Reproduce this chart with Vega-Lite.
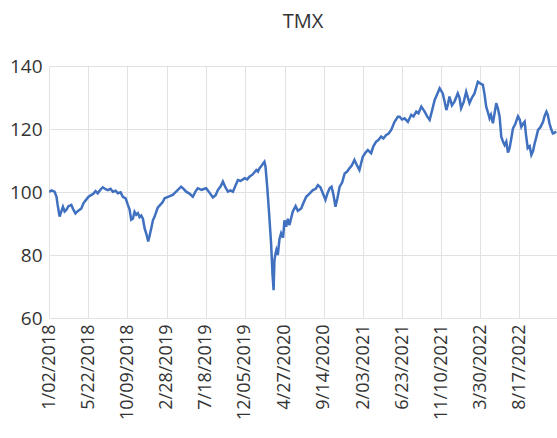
{
  "$schema": "https://vega.github.io/schema/vega-lite/v6.json",
  "width": 508,
  "height": 252,
  "autosize": {"type": "none"},
  "padding": {"left": 49, "top": 66, "right": 0, "bottom": 120},
  "background": "white",
  "title": {"text": "TMX", "fontSize": 20, "font": "Open Sans", "fontWeight": "normal", "color": "#333333", "anchor": "middle", "offset": 25},
  "data": {"values": [
    {"d": "2018-01-02T00:00", "v": 100.0},
    {"d": "2018-01-11T00:00", "v": 100.5},
    {"d": "2018-01-22T00:00", "v": 100.1},
    {"d": "2018-01-29T00:00", "v": 98.5},
    {"d": "2018-02-02T00:00", "v": 95.9},
    {"d": "2018-02-09T00:00", "v": 92.2},
    {"d": "2018-02-16T00:00", "v": 94.0},
    {"d": "2018-02-21T00:00", "v": 95.3},
    {"d": "2018-02-27T00:00", "v": 93.8},
    {"d": "2018-03-05T00:00", "v": 94.3},
    {"d": "2018-03-13T00:00", "v": 95.5},
    {"d": "2018-03-23T00:00", "v": 95.9},
    {"d": "2018-03-30T00:00", "v": 94.5},
    {"d": "2018-04-07T00:00", "v": 93.2},
    {"d": "2018-04-16T00:00", "v": 94.0},
    {"d": "2018-04-28T00:00", "v": 94.8},
    {"d": "2018-05-06T00:00", "v": 96.5},
    {"d": "2018-05-15T00:00", "v": 97.5},
    {"d": "2018-05-24T00:00", "v": 98.5},
    {"d": "2018-06-02T00:00", "v": 99.0},
    {"d": "2018-06-11T00:00", "v": 99.5},
    {"d": "2018-06-18T00:00", "v": 100.3},
    {"d": "2018-06-26T00:00", "v": 99.6},
    {"d": "2018-07-06T00:00", "v": 100.8},
    {"d": "2018-07-14T00:00", "v": 101.5},
    {"d": "2018-07-24T00:00", "v": 100.9},
    {"d": "2018-08-01T00:00", "v": 100.6},
    {"d": "2018-08-11T00:00", "v": 101.0},
    {"d": "2018-08-19T00:00", "v": 100.1},
    {"d": "2018-08-29T00:00", "v": 100.4},
    {"d": "2018-09-06T00:00", "v": 99.6},
    {"d": "2018-09-16T00:00", "v": 99.9},
    {"d": "2018-09-24T00:00", "v": 98.5},
    {"d": "2018-10-04T00:00", "v": 98.0},
    {"d": "2018-10-12T00:00", "v": 95.9},
    {"d": "2018-10-18T00:00", "v": 94.5},
    {"d": "2018-10-24T00:00", "v": 91.2},
    {"d": "2018-10-30T00:00", "v": 91.5},
    {"d": "2018-11-05T00:00", "v": 93.7},
    {"d": "2018-11-11T00:00", "v": 92.8},
    {"d": "2018-11-17T00:00", "v": 93.3},
    {"d": "2018-11-23T00:00", "v": 92.0},
    {"d": "2018-11-29T00:00", "v": 92.5},
    {"d": "2018-12-05T00:00", "v": 91.5},
    {"d": "2018-12-11T00:00", "v": 88.5},
    {"d": "2018-12-18T00:00", "v": 86.5},
    {"d": "2018-12-24T00:00", "v": 84.3},
    {"d": "2018-12-30T00:00", "v": 86.5},
    {"d": "2019-01-04T00:00", "v": 88.5},
    {"d": "2019-01-10T00:00", "v": 91.0},
    {"d": "2019-01-16T00:00", "v": 92.2},
    {"d": "2019-01-27T00:00", "v": 95.0},
    {"d": "2019-02-06T00:00", "v": 96.0},
    {"d": "2019-02-14T00:00", "v": 96.8},
    {"d": "2019-02-21T00:00", "v": 98.0},
    {"d": "2019-03-07T00:00", "v": 98.5},
    {"d": "2019-03-22T00:00", "v": 99.1},
    {"d": "2019-04-05T00:00", "v": 100.3},
    {"d": "2019-04-21T00:00", "v": 101.7},
    {"d": "2019-04-30T00:00", "v": 101.0},
    {"d": "2019-05-09T00:00", "v": 100.1},
    {"d": "2019-05-21T00:00", "v": 99.5},
    {"d": "2019-06-02T00:00", "v": 98.5},
    {"d": "2019-06-12T00:00", "v": 100.2},
    {"d": "2019-06-20T00:00", "v": 101.2},
    {"d": "2019-07-03T00:00", "v": 100.7},
    {"d": "2019-07-20T00:00", "v": 101.2},
    {"d": "2019-08-01T00:00", "v": 99.8},
    {"d": "2019-08-13T00:00", "v": 98.3},
    {"d": "2019-08-23T00:00", "v": 99.0},
    {"d": "2019-08-31T00:00", "v": 100.6},
    {"d": "2019-09-10T00:00", "v": 101.8},
    {"d": "2019-09-18T00:00", "v": 103.3},
    {"d": "2019-09-27T00:00", "v": 101.5},
    {"d": "2019-10-06T00:00", "v": 100.1},
    {"d": "2019-10-15T00:00", "v": 100.5},
    {"d": "2019-10-24T00:00", "v": 100.1},
    {"d": "2019-11-02T00:00", "v": 102.0},
    {"d": "2019-11-11T00:00", "v": 103.8},
    {"d": "2019-11-20T00:00", "v": 103.5},
    {"d": "2019-11-29T00:00", "v": 104.0},
    {"d": "2019-12-05T00:00", "v": 104.4},
    {"d": "2019-12-14T00:00", "v": 104.0},
    {"d": "2019-12-23T00:00", "v": 104.9},
    {"d": "2020-01-02T00:00", "v": 105.5},
    {"d": "2020-01-16T00:00", "v": 107.0},
    {"d": "2020-01-22T00:00", "v": 106.5},
    {"d": "2020-01-27T00:00", "v": 107.5},
    {"d": "2020-02-05T00:00", "v": 108.5},
    {"d": "2020-02-14T00:00", "v": 109.6},
    {"d": "2020-02-18T00:00", "v": 108.0},
    {"d": "2020-02-24T00:00", "v": 101.7},
    {"d": "2020-03-01T00:00", "v": 94.3},
    {"d": "2020-03-09T00:00", "v": 83.7},
    {"d": "2020-03-14T00:00", "v": 74.0},
    {"d": "2020-03-18T00:00", "v": 68.8},
    {"d": "2020-03-21T00:00", "v": 78.4},
    {"d": "2020-03-25T00:00", "v": 80.5},
    {"d": "2020-03-28T00:00", "v": 81.6},
    {"d": "2020-04-02T00:00", "v": 80.0},
    {"d": "2020-04-08T00:00", "v": 85.0},
    {"d": "2020-04-14T00:00", "v": 86.9},
    {"d": "2020-04-21T00:00", "v": 85.5},
    {"d": "2020-04-26T00:00", "v": 91.0},
    {"d": "2020-05-02T00:00", "v": 89.0},
    {"d": "2020-05-08T00:00", "v": 91.5},
    {"d": "2020-05-14T00:00", "v": 89.5},
    {"d": "2020-05-26T00:00", "v": 93.8},
    {"d": "2020-06-05T00:00", "v": 95.5},
    {"d": "2020-06-13T00:00", "v": 94.0},
    {"d": "2020-06-25T00:00", "v": 94.8},
    {"d": "2020-07-03T00:00", "v": 96.5},
    {"d": "2020-07-13T00:00", "v": 98.5},
    {"d": "2020-07-25T00:00", "v": 99.5},
    {"d": "2020-08-06T00:00", "v": 100.6},
    {"d": "2020-08-16T00:00", "v": 101.0},
    {"d": "2020-08-24T00:00", "v": 102.2},
    {"d": "2020-09-02T00:00", "v": 101.5},
    {"d": "2020-09-11T00:00", "v": 99.5},
    {"d": "2020-09-20T00:00", "v": 97.5},
    {"d": "2020-09-27T00:00", "v": 99.5},
    {"d": "2020-10-05T00:00", "v": 101.2},
    {"d": "2020-10-12T00:00", "v": 101.7},
    {"d": "2020-10-19T00:00", "v": 99.0},
    {"d": "2020-10-26T00:00", "v": 95.3},
    {"d": "2020-11-02T00:00", "v": 98.0},
    {"d": "2020-11-10T00:00", "v": 101.7},
    {"d": "2020-11-19T00:00", "v": 103.0},
    {"d": "2020-11-28T00:00", "v": 105.9},
    {"d": "2020-12-07T00:00", "v": 106.5},
    {"d": "2020-12-15T00:00", "v": 107.5},
    {"d": "2020-12-24T00:00", "v": 108.5},
    {"d": "2021-01-02T00:00", "v": 110.2},
    {"d": "2021-01-11T00:00", "v": 108.5},
    {"d": "2021-01-20T00:00", "v": 107.0},
    {"d": "2021-02-01T00:00", "v": 111.2},
    {"d": "2021-02-11T00:00", "v": 112.5},
    {"d": "2021-02-19T00:00", "v": 113.3},
    {"d": "2021-03-03T00:00", "v": 112.3},
    {"d": "2021-03-11T00:00", "v": 114.5},
    {"d": "2021-03-21T00:00", "v": 116.0},
    {"d": "2021-03-29T00:00", "v": 116.5},
    {"d": "2021-04-08T00:00", "v": 117.6},
    {"d": "2021-04-16T00:00", "v": 117.0},
    {"d": "2021-04-26T00:00", "v": 118.1},
    {"d": "2021-05-04T00:00", "v": 118.5},
    {"d": "2021-05-14T00:00", "v": 119.7},
    {"d": "2021-05-26T00:00", "v": 122.3},
    {"d": "2021-06-07T00:00", "v": 123.9},
    {"d": "2021-06-13T00:00", "v": 123.9},
    {"d": "2021-06-22T00:00", "v": 123.0},
    {"d": "2021-07-01T00:00", "v": 123.4},
    {"d": "2021-07-13T00:00", "v": 122.3},
    {"d": "2021-07-25T00:00", "v": 124.5},
    {"d": "2021-08-02T00:00", "v": 124.0},
    {"d": "2021-08-12T00:00", "v": 125.5},
    {"d": "2021-08-20T00:00", "v": 125.0},
    {"d": "2021-08-30T00:00", "v": 127.1},
    {"d": "2021-09-11T00:00", "v": 125.5},
    {"d": "2021-09-20T00:00", "v": 124.0},
    {"d": "2021-09-29T00:00", "v": 122.9},
    {"d": "2021-10-08T00:00", "v": 126.0},
    {"d": "2021-10-17T00:00", "v": 129.2},
    {"d": "2021-10-26T00:00", "v": 131.0},
    {"d": "2021-11-04T00:00", "v": 132.9},
    {"d": "2021-11-15T00:00", "v": 131.3},
    {"d": "2021-11-21T00:00", "v": 129.0},
    {"d": "2021-11-28T00:00", "v": 126.0},
    {"d": "2021-12-04T00:00", "v": 128.0},
    {"d": "2021-12-09T00:00", "v": 130.3},
    {"d": "2021-12-18T00:00", "v": 127.5},
    {"d": "2021-12-27T00:00", "v": 128.7},
    {"d": "2022-01-08T00:00", "v": 131.3},
    {"d": "2022-01-14T00:00", "v": 130.0},
    {"d": "2022-01-20T00:00", "v": 126.6},
    {"d": "2022-01-29T00:00", "v": 128.5},
    {"d": "2022-02-07T00:00", "v": 131.8},
    {"d": "2022-02-19T00:00", "v": 128.2},
    {"d": "2022-02-28T00:00", "v": 130.0},
    {"d": "2022-03-09T00:00", "v": 131.3},
    {"d": "2022-03-16T00:00", "v": 133.5},
    {"d": "2022-03-21T00:00", "v": 135.0},
    {"d": "2022-03-29T00:00", "v": 134.5},
    {"d": "2022-04-08T00:00", "v": 134.0},
    {"d": "2022-04-14T00:00", "v": 131.0},
    {"d": "2022-04-20T00:00", "v": 127.1},
    {"d": "2022-04-27T00:00", "v": 125.0},
    {"d": "2022-05-02T00:00", "v": 123.4},
    {"d": "2022-05-07T00:00", "v": 124.5},
    {"d": "2022-05-14T00:00", "v": 121.8},
    {"d": "2022-05-20T00:00", "v": 125.0},
    {"d": "2022-05-26T00:00", "v": 128.2},
    {"d": "2022-06-01T00:00", "v": 126.5},
    {"d": "2022-06-07T00:00", "v": 124.0},
    {"d": "2022-06-13T00:00", "v": 117.6},
    {"d": "2022-06-19T00:00", "v": 116.0},
    {"d": "2022-06-25T00:00", "v": 114.9},
    {"d": "2022-07-01T00:00", "v": 116.0},
    {"d": "2022-07-07T00:00", "v": 112.5},
    {"d": "2022-07-13T00:00", "v": 114.0},
    {"d": "2022-07-19T00:00", "v": 117.0},
    {"d": "2022-07-25T00:00", "v": 120.2},
    {"d": "2022-08-02T00:00", "v": 121.5},
    {"d": "2022-08-12T00:00", "v": 124.0},
    {"d": "2022-08-18T00:00", "v": 123.0},
    {"d": "2022-08-24T00:00", "v": 120.7},
    {"d": "2022-08-29T00:00", "v": 121.5},
    {"d": "2022-09-05T00:00", "v": 122.3},
    {"d": "2022-09-10T00:00", "v": 118.0},
    {"d": "2022-09-16T00:00", "v": 113.9},
    {"d": "2022-09-23T00:00", "v": 114.5},
    {"d": "2022-09-29T00:00", "v": 111.8},
    {"d": "2022-10-05T00:00", "v": 113.0},
    {"d": "2022-10-11T00:00", "v": 115.5},
    {"d": "2022-10-17T00:00", "v": 117.5},
    {"d": "2022-10-23T00:00", "v": 119.7},
    {"d": "2022-10-31T00:00", "v": 120.5},
    {"d": "2022-11-10T00:00", "v": 122.3},
    {"d": "2022-11-15T00:00", "v": 124.0},
    {"d": "2022-11-22T00:00", "v": 125.5},
    {"d": "2022-11-27T00:00", "v": 124.5},
    {"d": "2022-12-03T00:00", "v": 121.8},
    {"d": "2022-12-09T00:00", "v": 120.0},
    {"d": "2022-12-15T00:00", "v": 118.6},
    {"d": "2022-12-21T00:00", "v": 118.8},
    {"d": "2022-12-27T00:00", "v": 119.2}
  ]},
  "mark": {"type": "line", "color": "#4070C0", "strokeWidth": 2.5, "clip": true},
  "encoding": {
    "x": {
      "field": "d", "type": "temporal", "title": null,
      "scale": {"domain": [{"year": 2018, "month": 1, "date": 2}, {"year": 2022, "month": 12, "date": 30}]},
      "axis": {
        "values": [
          {"year": 2018, "month": 1, "date": 2},
          {"year": 2018, "month": 5, "date": 22},
          {"year": 2018, "month": 10, "date": 9},
          {"year": 2019, "month": 2, "date": 28},
          {"year": 2019, "month": 7, "date": 18},
          {"year": 2019, "month": 12, "date": 5},
          {"year": 2020, "month": 4, "date": 27},
          {"year": 2020, "month": 9, "date": 14},
          {"year": 2021, "month": 2, "date": 3},
          {"year": 2021, "month": 6, "date": 23},
          {"year": 2021, "month": 11, "date": 10},
          {"year": 2022, "month": 3, "date": 30},
          {"year": 2022, "month": 8, "date": 17}
        ],
        "format": "%-m/%d/%Y",
        "labelAngle": -90,
        "labelFont": "Open Sans",
        "labelFontSize": 18,
        "labelColor": "#333333",
        "labelPadding": 6,
        "ticks": false,
        "domain": false,
        "grid": true,
        "gridColor": "#e2e2e2",
        "gridWidth": 1,
        "labelOverlap": false,
        "labelFlush": false
      }
    },
    "y": {
      "field": "v", "type": "quantitative", "title": null,
      "scale": {"domain": [60, 140], "zero": false, "nice": false},
      "axis": {
        "values": [60, 80, 100, 120, 140],
        "labelFont": "Open Sans",
        "labelFontSize": 19,
        "labelColor": "#333333",
        "labelPadding": 7,
        "ticks": false,
        "domain": false,
        "grid": true,
        "gridColor": "#e2e2e2",
        "gridWidth": 1
      }
    }
  },
  "config": {"view": {"stroke": null}}
}
